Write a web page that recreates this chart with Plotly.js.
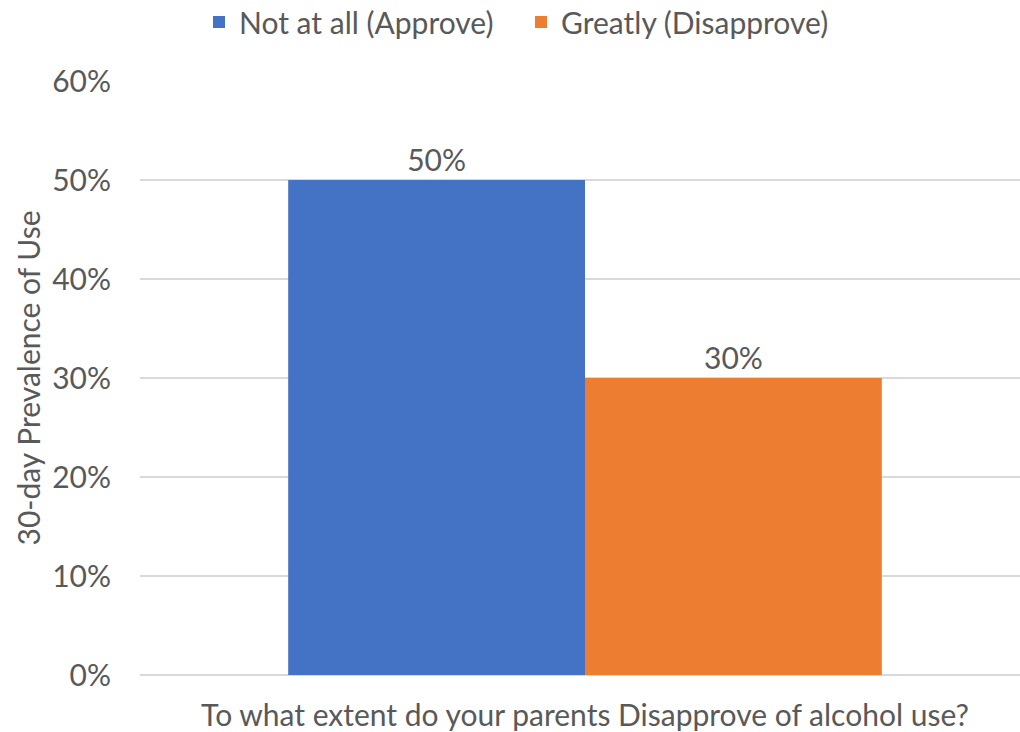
<!DOCTYPE html>
<html>
<head>
<meta charset="utf-8">
<script src="https://cdn.plot.ly/plotly-3.0.1.min.js"></script>
<style>
html,body{margin:0;padding:0;overflow:hidden;background:#fff;width:1020px;height:732px;}
#chart{width:1030px;height:732px;}
</style>
</head>
<body>
<div id="chart"></div>
<script>
const category = ["To what extent do your parents Disapprove of alcohol use?"];
const seriesNames = ["Not at all (Approve)", "Greatly (Disapprove)"];
const approveValues = [0.50];
const disapproveValues = [0.30];
const yTickValues = [0, 0.1, 0.2, 0.3, 0.4, 0.5, 0.6];
const yTickLabels = ["0%", "10%", "20%", "30%", "40%", "50%", "60%"];
const xTitle = "To what extent do your parents Disapprove of alcohol use?";
const yTitle = "30-day Prevalence of Use";

const fontFamily = "Lato, 'Open Sans', sans-serif";
const textColor = "#595959";
const fs = 30;

const traces = [
  {
    type: "bar", name: seriesNames[0], x: category, y: approveValues,
    marker: {color: "#4472C4"},
    text: approveValues.map(v => Math.round(v*100) + "%"),
    textposition: "outside", cliponaxis: false,
    textfont: {family: fontFamily, size: fs, color: textColor},
    hoverinfo: "none"
  },
  {
    type: "bar", name: seriesNames[1], x: category, y: disapproveValues,
    marker: {color: "#ED7D31"},
    text: disapproveValues.map(v => Math.round(v*100) + "%"),
    textposition: "outside", cliponaxis: false,
    textfont: {family: fontFamily, size: fs, color: textColor},
    hoverinfo: "none"
  }
];

const layout = {
  width: 1030, height: 732,
  margin: {l: 140, r: 0, t: 81, b: 57, pad: 0},
  paper_bgcolor: "#fff", plot_bgcolor: "#fff",
  font: {family: fontFamily, size: fs, color: textColor},
  barmode: "group", bargap: 0.333, bargroupgap: 0,
  showlegend: true,
  legend: {
    orientation: "h", x: 0.4281, xanchor: "center", y: 1 - 22/732, yanchor: "middle",
    yref: "container", font: {family: fontFamily, size: fs, color: textColor},
    traceorder: "normal", itemwidth: 30, entrywidth: 277, entrywidthmode: "pixels"
  },
  xaxis: {
    type: "category", showticklabels: false, showgrid: false, zeroline: false,
    showline: false, ticks: "",
    title: {text: xTitle, font: {family: fontFamily, size: fs, color: textColor}, standoff: 30}
  },
  yaxis: {
    range: [0, 0.6], tickvals: yTickValues, ticktext: yTickLabels,
    showgrid: true, gridcolor: "#d9d9d9", gridwidth: 1.5,
    zeroline: true, zerolinecolor: "#d9d9d9", zerolinewidth: 1.5,
    showline: false, ticks: "", ticklabelstandoff: 28,
    tickfont: {family: fontFamily, size: fs, color: textColor},
    title: {text: yTitle, font: {family: fontFamily, size: fs, color: textColor}, standoff: 2}
  }
};

Plotly.newPlot("chart", traces, layout, {displayModeBar: false, staticPlot: true});
</script>
</body>
</html>
